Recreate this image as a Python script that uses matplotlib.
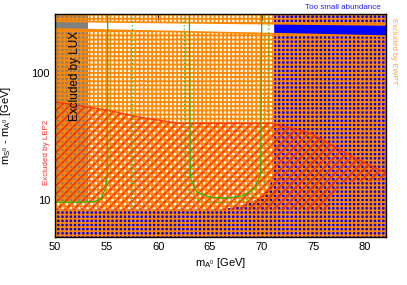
import numpy as np
import matplotlib
matplotlib.use('Agg')
import matplotlib.pyplot as plt
from matplotlib.ticker import LogLocator, NullFormatter, FixedLocator

plt.rcParams['font.family'] = ['Liberation Sans', 'DejaVu Sans']
plt.rcParams['mathtext.fontset'] = 'custom'
plt.rcParams['mathtext.rm'] = 'Liberation Sans'
plt.rcParams['mathtext.it'] = 'Liberation Sans'

# axis range
xmin, xmax = 50, 82
ymin, ymax = 5.1, 290

# region allowed by relic abundance (below / right of this is "too small abundance")
allow_x = [50, 66.0, 67.5, 68.9, 69.8, 70.5, 71.0, 71.2, 71.2]
allow_low = [8.4, 8.4, 8.8, 9.5, 10.4, 12.0, 14.5, 18.0, 290]

# LUX exclusion
lux_x = [50, 53.2]
lux_low = 9.8

# EWPT allowed strip
strip_x = [50, 71.2, 82]
strip_top = [254, 243, 238]
strip_bot = [221, 203, 194]

# LEP2 exclusion polygon
lep_x = [50, 55, 58, 62, 71, 74.7, 78.8, 82, 82, 81.7, 77.6, 76.3, 76, 50]
lep_y = [59, 51, 45, 40, 40, 33.6, 21.8, 16.3, 15, 14.4, 13.6, 8.7, 8.3, 8.3]

# relic density contours
g1_x = [50, 52, 53.8, 54.5, 54.9, 55.1, 55.1]
g1_y = [9.6, 9.6, 9.7, 10.3, 12.5, 16, 290]
g2_x = [57.5, 57.5]
g2_y = [9.0, 290]
g3_x = [62.5, 62.6, 63.2, 64.5, 66.5, 68.5, 69.8, 70.5, 70.7]
g3_y = [290, 14, 10.5, 9.6, 9.5, 10.0, 11.5, 15, 290]
g4_x = [63.0, 63.1, 63.7, 65, 66.5, 68.2, 69.3, 69.9, 70.0]
g4_y = [290, 15, 11.5, 10.5, 10.3, 10.8, 12.3, 16, 290]

orange = '#ff8800'
blue = '#0000ff'
red = '#ff2a00'
green = '#22bb00'

fig = plt.figure(figsize=(4.07, 2.85), dpi=100)
ax = fig.add_axes([0.135, 0.168, 0.813, 0.783])
ax.set_facecolor(blue)
ax.set_yscale('log')
ax.set_xlim(xmin, xmax)
ax.set_ylim(ymin, ymax)

# white allowed region
ax.fill_between(allow_x, allow_low, ymax, facecolor='white', lw=0, zorder=1)
# LUX
ax.fill_between(lux_x, lux_low, ymax, facecolor='#808080', lw=0, zorder=2)

# EWPT checker
plt.rcParams['hatch.linewidth'] = 1.25
ax.fill_between(strip_x, strip_top, ymax, facecolor='none', edgecolor=orange,
                hatch='++++', lw=0, zorder=3)
ax.fill_between(strip_x, ymin, strip_bot, facecolor='none', edgecolor=orange,
                hatch='++++', lw=0, zorder=3)
ax.plot(strip_x, strip_top, color=orange, lw=1.2, zorder=4)
ax.plot(strip_x, strip_bot, color=orange, lw=1.2, zorder=4)

# LEP2 hatch
plt.rcParams['hatch.linewidth'] = 1.3
ax.fill(lep_x, lep_y, facecolor='none', edgecolor=red, hatch='////', lw=0,
        zorder=5, alpha=0.85)
ax.plot(lep_x[:8], lep_y[:8], color=red, lw=1.0, zorder=5, alpha=0.85)

# contours
ax.plot(g1_x, g1_y, color=green, lw=0.9, zorder=6)
ax.plot(g2_x, g2_y, color=green, lw=0.9, ls=(0, (1, 2)), zorder=6)
ax.plot(g3_x, g3_y, color=green, lw=0.9, ls=(0, (1, 2)), zorder=6)
ax.plot(g4_x, g4_y, color=green, lw=0.9, zorder=6)

# ticks
ax.set_xticks(np.arange(50, 81, 5))
ax.yaxis.set_major_locator(FixedLocator([10, 100]))
ax.yaxis.set_minor_locator(LogLocator(base=10, subs=np.arange(2, 10)))
ax.yaxis.set_minor_formatter(NullFormatter())
ax.set_yticklabels(['10', '100'])
ax.tick_params(which='both', direction='in', top=True, right=True,
               labelsize=8, colors='black')
ax.tick_params(which='major', length=4, width=0.8)
ax.tick_params(which='minor', length=2, width=0.6)
for sp in ax.spines.values():
    sp.set_linewidth(1.0)
    sp.set_zorder(10)

ax.set_xlabel(r'm$_{\mathregular{A^0}}$ [GeV]', fontsize=8, labelpad=3)
ax.set_ylabel(r'm$_{\mathregular{S^0}}$ - m$_{\mathregular{A^0}}$ [GeV]',
              fontsize=8)
ax.yaxis.set_label_coords(-0.128, 0.5)

ax.text(51.9, 95, 'Excluded by LUX', rotation=90, fontsize=8.5,
        ha='center', va='center', zorder=9)
fig.text(0.115, 0.465, 'Excluded by LEP2', rotation=90, fontsize=5.8,
         color='#ff3030', ha='center', va='center')
fig.text(0.935, 0.972, 'Too small abundance', fontsize=5.8, color='#2020ff',
         ha='right', va='center')
fig.text(0.966, 0.82, 'Excluded by EWPT', rotation=270, fontsize=5.5,
         color='#ffa050', ha='center', va='center')

fig.savefig('out.png', dpi=100)
